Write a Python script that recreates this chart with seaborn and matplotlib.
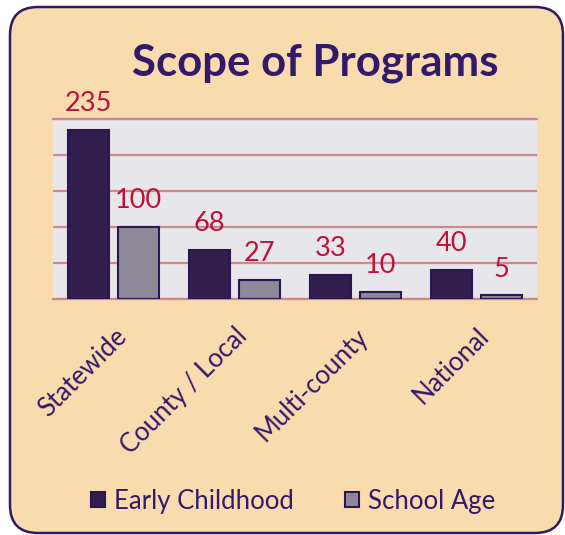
import matplotlib
matplotlib.use("Agg")
import matplotlib.pyplot as plt
from matplotlib.patches import FancyBboxPatch
from matplotlib.transforms import ScaledTranslation
import pandas as pd
import seaborn as sns

# Chart data
categories = ["Statewide", "County / Local", "Multi-county", "National"]
early_childhood = [235, 68, 33, 40]
school_age = [100, 27, 10, 5]
series_names = ["Early Childhood", "School Age"]

df = pd.DataFrame({
    "scope": categories * 2,
    "count": early_childhood + school_age,
    "group": [series_names[0]] * 4 + [series_names[1]] * 4,
})

sns.set_theme(style="white")
plt.rcParams["font.family"] = ["Lato", "DejaVu Sans"]

purple = "#2E1756"
grey = "#8C869C"
red = "#C0103A"
grid_col = "#C98A8D"
text_col = "#33196A"

fig = plt.figure(figsize=(5.65, 5.35), dpi=100)
fig.patch.set_facecolor("white")

# rounded peach panel behind everything
panel = FancyBboxPatch((0.10, 0.02), 5.53, 5.26,
                       boxstyle="round,pad=0,rounding_size=0.28",
                       transform=fig.dpi_scale_trans,
                       facecolor="#F9DCAE", edgecolor="#2E1A5E", linewidth=1.8,
                       zorder=0)
fig.add_artist(panel)

ax = fig.add_axes([0.0938, 0.4411, 0.8566, 0.3365])
ax.set_facecolor("#E7E6EA")

sns.barplot(data=df, x="scope", y="count", hue="group", order=categories,
            hue_order=series_names, palette=[purple, grey],
            width=0.835, gap=0.19, edgecolor="#2A1650", linewidth=1.5,
            ax=ax, zorder=3)

ax.set_ylim(0, 250)
ax.set_xlim(-0.5, 3.5)
ax.set_yticks([0, 50, 100, 150, 200, 250])
ax.set_yticklabels([])
ax.yaxis.grid(True, color=grid_col, linewidth=1.6, zorder=1)
ax.set_axisbelow(True)
for side in ["left", "right"]:
    ax.spines[side].set_visible(False)
for side in ["top", "bottom"]:
    ax.spines[side].set_color(grid_col)
    ax.spines[side].set_linewidth(1.6)
ax.tick_params(axis="both", length=0)
ax.set_xlabel("")
ax.set_ylabel("")

for cont in ax.containers:
    ax.bar_label(cont, padding=10, color=red, fontsize=19.5)

ax.set_xticks(range(len(categories)))
ax.set_xticklabels(categories, rotation=45, ha="right", va="center",
                   rotation_mode="anchor", color=text_col, fontsize=18.5)
ax.tick_params(axis="x", pad=24)
shift = ScaledTranslation(9 / 100, 0, fig.dpi_scale_trans)
for lbl in ax.get_xticklabels():
    lbl.set_transform(lbl.get_transform() + shift)

fig.text(0.558, 0.882, "Scope of Programs", ha="center", va="center",
         fontsize=31.5, fontweight="bold", color=text_col)

handles, labels = ax.get_legend_handles_labels()
ax.legend_.remove()
fig.legend(handles, labels, loc="center", bbox_to_anchor=(0.519, 0.063),
           ncol=2, frameon=False, fontsize=18.5, handlelength=0.55,
           handleheight=0.55, handletextpad=0.35, columnspacing=2.0,
           labelcolor=text_col)

fig.savefig("out.png", dpi=100)
